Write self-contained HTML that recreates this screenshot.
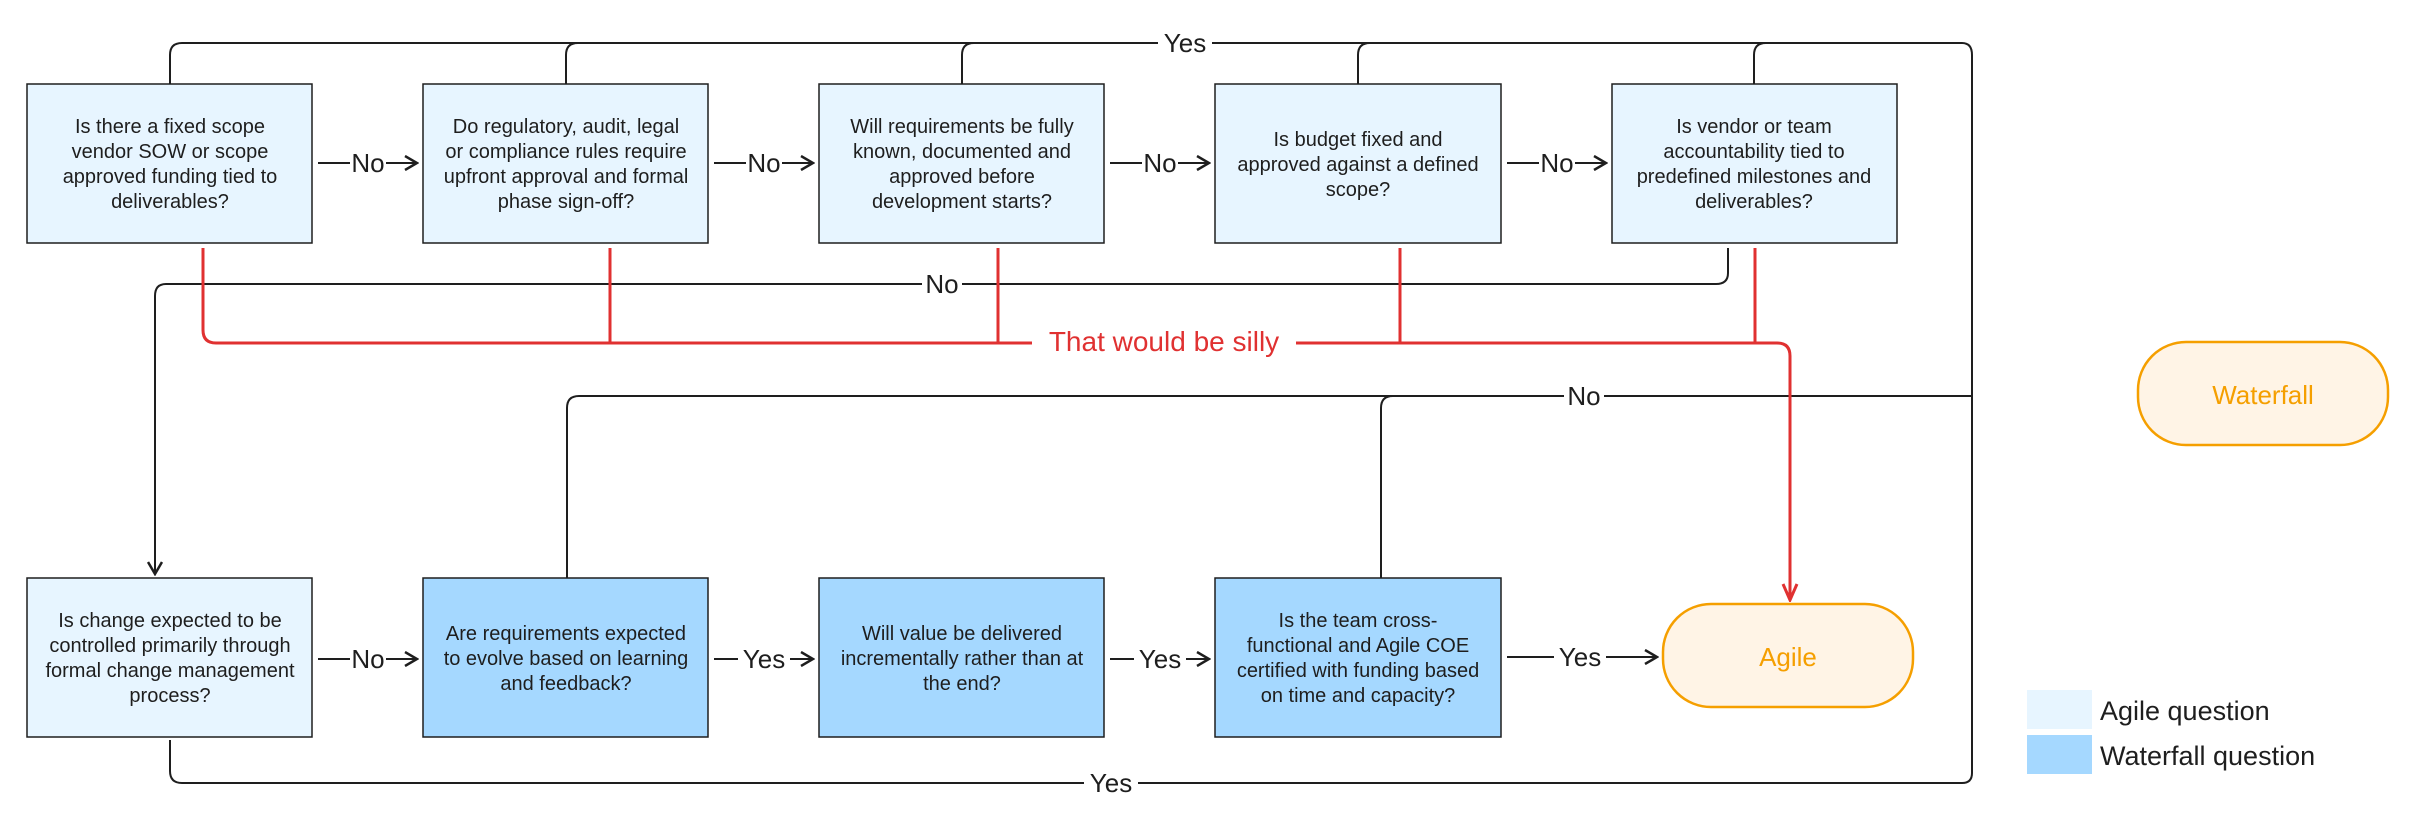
<!DOCTYPE html>
<html><head><meta charset="utf-8"><style>
html,body{margin:0;padding:0;background:#fff;}
svg{display:block;}
text{font-family:"Liberation Sans",sans-serif;}
</style></head><body>
<svg width="2416" height="829" viewBox="0 0 2416 829" xmlns="http://www.w3.org/2000/svg">
<defs>
<marker id="ah" markerWidth="16" markerHeight="16" refX="14" refY="8" orient="auto" markerUnits="userSpaceOnUse">
<path d="M2,1 L14,8 L2,15" fill="none" stroke="#1e1e1e" stroke-width="2.5"/>
</marker>
<marker id="ahr" markerWidth="20" markerHeight="20" refX="18" refY="10" orient="auto" markerUnits="userSpaceOnUse">
<path d="M2,3 L18,10 L2,17" fill="none" stroke="#e03131" stroke-width="3"/>
</marker>
</defs>
<g fill="none" stroke="#1e1e1e" stroke-width="2">
<path d="M170,84 V55 Q170,43 182,43 H1962 Q1972,43 1972,55 V773 Q1972,783 1962,783 H182 Q170,783 170,771 V740"/>
<path d="M566,84 V55 Q566,43 578,43"/>
<path d="M962,84 V55 Q962,43 974,43"/>
<path d="M1358,84 V55 Q1358,43 1370,43"/>
<path d="M1754,84 V55 Q1754,43 1766,43"/>
<path d="M1728,248 V273 Q1728,284 1716,284 H166 Q155,284 155,296 V574" marker-end="url(#ah)"/>
<path d="M567,578 V408 Q567,396 579,396 H1972"/>
<path d="M1381,578 V408 Q1381,396 1393,396"/>
<path d="M318,163 H417" marker-end="url(#ah)"/>
<path d="M714,163 H813" marker-end="url(#ah)"/>
<path d="M1110,163 H1209" marker-end="url(#ah)"/>
<path d="M1507,163 H1606" marker-end="url(#ah)"/>
<path d="M318,659 H417" marker-end="url(#ah)"/>
<path d="M714,659 H813" marker-end="url(#ah)"/>
<path d="M1110,659 H1209" marker-end="url(#ah)"/>
<path d="M1507,657 H1657" marker-end="url(#ah)"/>
</g>
<g fill="#fff">
<rect x="350" y="148" width="36" height="28"/><rect x="746" y="148" width="36" height="28"/>
<rect x="1142" y="148" width="36" height="28"/><rect x="1539" y="148" width="36" height="28"/>
<rect x="350" y="644" width="36" height="28"/><rect x="738" y="644" width="52" height="28"/>
<rect x="1134" y="644" width="52" height="28"/><rect x="1554" y="642" width="52" height="28"/>
<rect x="1158" y="28" width="54" height="28"/><rect x="1084" y="768" width="54" height="28"/>
<rect x="922" y="270" width="40" height="28"/><rect x="1564" y="382" width="40" height="28"/>
</g>
<g font-size="26" fill="#1e1e1e" text-anchor="middle">
<text x="368" y="172">No</text><text x="764" y="172">No</text>
<text x="1160" y="172">No</text><text x="1557" y="172">No</text>
<text x="368" y="668">No</text><text x="764" y="668">Yes</text>
<text x="1160" y="668">Yes</text><text x="1580" y="666">Yes</text>
<text x="1185" y="52">Yes</text><text x="1111" y="792">Yes</text>
<text x="942" y="293">No</text><text x="1584" y="405">No</text>
</g>
<g fill="none" stroke="#e03131" stroke-width="3">
<path d="M203,248 V330 Q203,343 216,343 H1777 Q1790,343 1790,356 V600" marker-end="url(#ahr)"/>
<path d="M610,248 V343"/><path d="M998,248 V343"/><path d="M1400,248 V343"/><path d="M1755,248 V343"/>
</g>
<rect x="1032" y="325" width="264" height="36" fill="#fff"/>
<text x="1164" y="351" font-size="28" fill="#e03131" text-anchor="middle">That would be silly</text>
<g stroke="#1e1e1e" stroke-width="1.5">
<rect x="27" y="84" width="285" height="159" fill="#e7f5ff"/>
<rect x="423" y="84" width="285" height="159" fill="#e7f5ff"/>
<rect x="819" y="84" width="285" height="159" fill="#e7f5ff"/>
<rect x="1215" y="84" width="286" height="159" fill="#e7f5ff"/>
<rect x="1612" y="84" width="285" height="159" fill="#e7f5ff"/>
<rect x="27" y="578" width="285" height="159" fill="#e7f5ff"/>
<rect x="423" y="578" width="285" height="159" fill="#a5d8ff"/>
<rect x="819" y="578" width="285" height="159" fill="#a5d8ff"/>
<rect x="1215" y="578" width="286" height="159" fill="#a5d8ff"/>
</g>
<g font-size="20" fill="#1e1e1e" text-anchor="middle">
<text x="170" y="133">Is there a fixed scope</text><text x="170" y="158">vendor SOW or scope</text><text x="170" y="183">approved funding tied to</text><text x="170" y="208">deliverables?</text>
<text x="566" y="133">Do regulatory, audit, legal</text><text x="566" y="158">or compliance rules require</text><text x="566" y="183">upfront approval and formal</text><text x="566" y="208">phase sign-off?</text>
<text x="962" y="133">Will requirements be fully</text><text x="962" y="158">known, documented and</text><text x="962" y="183">approved before</text><text x="962" y="208">development starts?</text>
<text x="1358" y="146">Is budget fixed and</text><text x="1358" y="171">approved against a defined</text><text x="1358" y="196">scope?</text>
<text x="1754" y="133">Is vendor or team</text><text x="1754" y="158">accountability tied to</text><text x="1754" y="183">predefined milestones and</text><text x="1754" y="208">deliverables?</text>
<text x="170" y="627">Is change expected to be</text><text x="170" y="652">controlled primarily through</text><text x="170" y="677">formal change management</text><text x="170" y="702">process?</text>
<text x="566" y="640">Are requirements expected</text><text x="566" y="665">to evolve based on learning</text><text x="566" y="690">and feedback?</text>
<text x="962" y="640">Will value be delivered</text><text x="962" y="665">incrementally rather than at</text><text x="962" y="690">the end?</text>
<text x="1358" y="627">Is the team cross-</text><text x="1358" y="652">functional and Agile COE</text><text x="1358" y="677">certified with funding based</text><text x="1358" y="702">on time and capacity?</text>
</g>
<rect x="1663" y="604" width="250" height="103" rx="48" fill="#fff4e6" stroke="#f59f00" stroke-width="2.5"/>
<text x="1788" y="666" font-size="26" fill="#f59f00" text-anchor="middle">Agile</text>
<rect x="2138" y="342" width="250" height="103" rx="48" fill="#fff4e6" stroke="#f59f00" stroke-width="2.5"/>
<text x="2263" y="404" font-size="26" fill="#f59f00" text-anchor="middle">Waterfall</text>
<rect x="2027" y="690" width="65" height="39" fill="#e7f5ff"/>
<rect x="2027" y="735" width="65" height="39" fill="#a5d8ff"/>
<text x="2100" y="720" font-size="27" fill="#1e1e1e">Agile question</text>
<text x="2100" y="765" font-size="27" fill="#1e1e1e">Waterfall question</text>
</svg>
</body></html>
